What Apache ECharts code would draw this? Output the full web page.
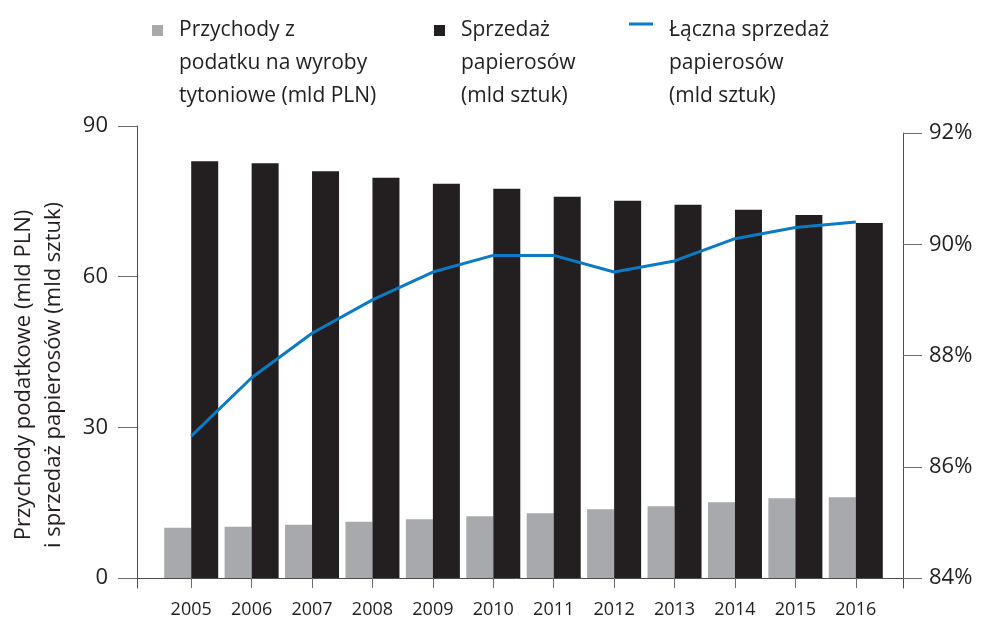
<!DOCTYPE html>
<html>
<head>
<meta charset="utf-8">
<style>
  html, body { margin: 0; padding: 0; background: #fff; }
  #main { width: 986px; height: 619px; }
</style>
</head>
<body>
  <div id="main"></div>
  <script src="https://cdn.jsdelivr.net/npm/echarts@6/dist/echarts.min.js"></script>
  <script>
    // lata
    var years = ["2005", "2006", "2007", "2008", "2009", "2010", "2011", "2012", "2013", "2014", "2015", "2016"];
    // przychody z podatku (mld PLN)
    var taxRevenue = [10.0, 10.2, 10.6, 11.2, 11.7, 12.3, 12.9, 13.7, 14.3, 15.1, 15.9, 16.1];
    // sprzedaz papierosow (mld sztuk)
    var cigaretteSales = [83.0, 82.6, 81.0, 79.7, 78.5, 77.5, 75.9, 75.1, 74.3, 73.3, 72.3, 70.7];
    // laczna sprzedaz papierosow (%)
    var salesShare = [86.55, 87.6, 88.4, 89.0, 89.5, 89.8, 89.8, 89.5, 89.7, 90.1, 90.3, 90.4];

    var seriesNames = [
      "Przychody z podatku na wyroby tytoniowe (mld PLN)",
      "Sprzedaż papierosów (mld sztuk)",
      "Łączna sprzedaż papierosów (mld sztuk)"
    ];
    // dwie puste linie na poczatku, zeby ikona byla przy pierwszej linii tekstu
    var legendLabels = [
      "\n\nPrzychody z\npodatku na wyroby\ntytoniowe (mld PLN)",
      "\n\nSprzedaż\npapierosów\n(mld sztuk)",
      "\n\nŁączna sprzedaż\npapierosów\n(mld sztuk)"
    ];
    var leftTicks = { min: 0, max: 90, interval: 30 };
    var rightTicks = { min: 84, max: 92, interval: 2 };

    var font = "Open Sans";
    var textColor = "#231f20";
    var axisColor = "#4d4d4f";
    var tickColor = "#6d6e71";

    function legendItem(i, left, top, w, h, icon) {
      return {
        data: [seriesNames[i]],
        left: left,
        top: top,
        padding: 0,
        itemWidth: w,
        itemHeight: h,
        icon: icon,
        selectedMode: false,
        formatter: function () { return legendLabels[i]; },
        textStyle: {
          fontFamily: font,
          fontSize: 21,
          lineHeight: 33,
          color: textColor,
          padding: [0, 0, 0, 11]
        }
      };
    }

    function frameAxis(grid, pos, offset) {
      return {
        gridIndex: grid, type: "value", min: 0, max: 1, position: pos, offset: offset,
        axisLine: { show: true, onZero: false, lineStyle: { color: axisColor, width: 1 } },
        axisTick: { show: false }, axisLabel: { show: false }, splitLine: { show: false }
      };
    }

    var myChart = echarts.init(document.getElementById("main"));
    var option = {
      animation: false,
      textStyle: { fontFamily: font },
      legend: [
        legendItem(0, 152, -52, 11, 11, "rect"),
        legendItem(1, 434, -52, 11, 11, "rect"),
        legendItem(2, 629, -52, 24, 16, "path://M0,0H24V3H0Z M0,16L0.01,16")
      ],
      grid: [
        { left: 130, right: 83, top: 126, bottom: 31 },
        { left: 161, right: 100, top: 126, bottom: 41 },
        { left: 161, right: 100, top: 133, bottom: 41 },
        { left: 130, right: 83, top: 133, bottom: 31 }
      ],
      xAxis: [
        frameAxis(0, "bottom", -10),
        {
          gridIndex: 1, type: "category", data: years,
          axisLine: { show: false },
          axisTick: { show: true, alignWithLabel: true, length: 10, lineStyle: { color: tickColor } },
          axisLabel: { margin: 23, fontSize: 18, color: textColor, fontFamily: font }
        },
        { gridIndex: 2, type: "category", data: years, show: false },
        { gridIndex: 3, type: "value", min: 0, max: 1, show: false }
      ],
      yAxis: [
        frameAxis(0, "left", -7),
        frameAxis(3, "right", 0),
        {
          gridIndex: 1, type: "value", position: "left", offset: 24,
          min: leftTicks.min, max: leftTicks.max, interval: leftTicks.interval,
          axisLine: { show: false },
          axisTick: { show: true, length: 19, lineStyle: { color: tickColor } },
          axisLabel: { margin: 29, fontSize: 22, color: textColor, fontFamily: font },
          splitLine: { show: false },
          name: "Przychody podatkowe (mld PLN)\ni sprzedaż papierosów (mld sztuk)",
          nameLocation: "middle",
          nameGap: 68,
          nameTextStyle: {
            fontFamily: font, fontSize: 22, lineHeight: 30, color: textColor,
            padding: [0, 46, 0, 0]
          }
        },
        {
          gridIndex: 2, type: "value", position: "right", offset: 17,
          min: rightTicks.min, max: rightTicks.max, interval: rightTicks.interval,
          axisLine: { show: false },
          axisTick: { show: true, length: 19, lineStyle: { color: tickColor } },
          axisLabel: { margin: 26, fontSize: 22, color: textColor, fontFamily: font, formatter: "{value}%" },
          splitLine: { show: false }
        }
      ],
      series: [
        {
          name: seriesNames[0], type: "bar", xAxisIndex: 1, yAxisIndex: 2,
          data: taxRevenue, barWidth: 27, barGap: "0%",
          itemStyle: { color: "#a7a9ac" }
        },
        {
          name: seriesNames[1], type: "bar", xAxisIndex: 1, yAxisIndex: 2,
          data: cigaretteSales, barWidth: 27, barGap: "0%",
          itemStyle: { color: "#231f20" }
        },
        {
          name: seriesNames[2], type: "line", xAxisIndex: 2, yAxisIndex: 3,
          data: salesShare, symbol: "none", z: 5,
          lineStyle: { width: 3, color: "#0a7bc4" },
          itemStyle: { color: "#0a7bc4" }
        }
      ]
    };
    myChart.setOption(option);
  </script>
</body>
</html>
